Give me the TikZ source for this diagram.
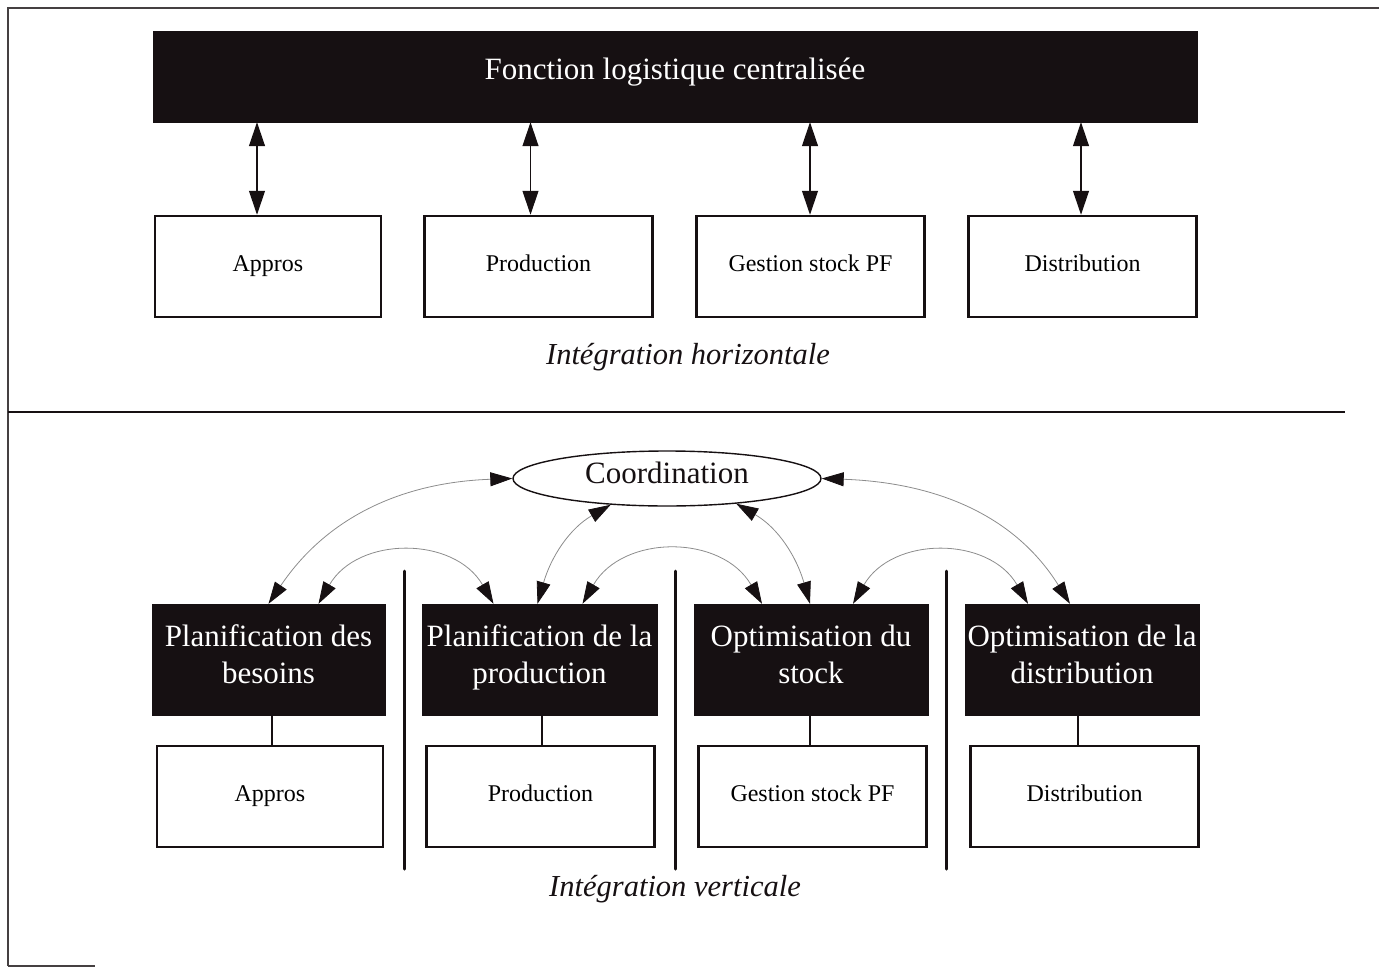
\documentclass[tikz,border=0pt]{standalone}
\usepackage{fontspec}
\setmainfont{Liberation Serif}
\usetikzlibrary{arrows.meta,shapes.geometric}
\definecolor{ink}{RGB}{22,16,18}
\definecolor{curvegray}{RGB}{140,140,140}
\newcommand\twoline[2]{\raisebox{-4.3pt}[0pt][0pt]{\begin{tabular}{@{}c@{}}#1\\#2\end{tabular}}}
\newcommand\lift[2]{\raisebox{#1}[0pt][0pt]{#2}}
\begin{document}
\begin{tikzpicture}[x=1pt,y=1pt,
  blackbox/.style={rectangle, fill=ink, draw=ink, text=white, inner sep=0pt,
    font=\fontsize{31}{37}\selectfont},
  whitebox/.style={rectangle, draw=ink, line width=2.5pt, fill=white,
    minimum width=228pt, minimum height=101pt, inner sep=0pt,
    text height=16pt, text depth=7pt,
    font=\fontsize{24}{28}\selectfont},
  biarrow/.style={{Triangle[length=24pt,width=16pt]}-{Triangle[length=24pt,width=16pt]},
    line width=1.2pt, draw=ink},
  curvarrow/.style={{Triangle[length=22pt,width=14pt,color=ink,fill=ink]}-{Triangle[length=22pt,width=14pt,color=ink,fill=ink]},
    line width=0.8pt, draw=curvegray},
  caption/.style={font=\fontsize{30.5}{34}\selectfont\itshape, text=ink},
  frameline/.style={line width=1.2pt, draw=ink!80},
  sepline/.style={line width=2.6pt, draw=ink},
  link/.style={line width=2pt, draw=ink}
]
\useasboundingbox (0,0) rectangle (1379,-969);

% frame
\draw[frameline] (8,-966) -- (8,-8) -- (1379,-8);
\draw[frameline] (8,-966) -- (95,-966);
\draw[sepline] (8,-412) -- (1345,-412);

% ---------- horizontal integration ----------
\node[blackbox, minimum width=1044pt, minimum height=91pt] (top) at (675,-76.5)
  {\lift{-2.5pt}{Fonction logistique centralisée}};

\node[whitebox, minimum width=226pt] (a1) at (268,-266.5) {Appros};
\node[whitebox] (a2) at (538.5,-266.5) {Production};
\node[whitebox] (a3) at (810.5,-266.5) {Gestion stock PF};
\node[whitebox] (a4) at (1082.5,-266.5) {Distribution};

\draw[biarrow] ([xshift=-11pt]a1.north) -- ([xshift=-11pt]a1.north |- top.south);
\draw[biarrow] ([xshift=-8pt]a2.north) -- ([xshift=-8pt]a2.north |- top.south);
\draw[biarrow] ([xshift=-0.5pt]a3.north) -- ([xshift=-0.5pt]a3.north |- top.south);
\draw[biarrow] ([xshift=-1.5pt]a4.north) -- ([xshift=-1.5pt]a4.north |- top.south);

\node[caption] (hcap) at (688,-357) {Intégration horizontale};

% ---------- vertical integration ----------
\node[ellipse, draw=ink, line width=1.4pt, fill=white, minimum width=308pt,
  minimum height=55pt, inner sep=0pt, font=\fontsize{31}{36}\selectfont, text=ink]
  (coord) at (667,-478.5) {\lift{-4.8pt}{Coordination}};

\node[blackbox, minimum width=233pt, minimum height=111pt] (pb) at (268.5,-659.5)
  {\twoline{Planification des}{besoins}};
\node[blackbox, minimum width=235pt, minimum height=111pt] (pp) at (539.5,-659.5)
  {\twoline{Planification de la}{production}};
\node[blackbox, minimum width=234pt, minimum height=111pt] (os) at (811,-659.5)
  {\twoline{Optimisation du}{stock}};
\node[blackbox, minimum width=234pt, minimum height=111pt] (od) at (1082,-659.5)
  {\twoline{Optimisation de la}{distribution}};

\node[whitebox, minimum width=226pt] (b1) at (270,-796.5) {Appros};
\node[whitebox] (b2) at (540.5,-796.5) {Production};
\node[whitebox] (b3) at (812.5,-796.5) {Gestion stock PF};
\node[whitebox] (b4) at (1084.5,-796.5) {Distribution};

\draw[link] ([xshift=2pt]b1.north) -- ([xshift=2pt]b1.north |- pb.south);
\draw[link] ([xshift=1.5pt]b2.north) -- ([xshift=1.5pt]b2.north |- pp.south);
\draw[link] ([xshift=-2.5pt]b3.north) -- ([xshift=-2.5pt]b3.north |- os.south);
\draw[link] ([xshift=-6.5pt]b4.north) -- ([xshift=-6.5pt]b4.north |- od.south);

% vertical separators
\draw[line width=3pt, draw=ink, line cap=round] (404,-571) -- (404,-869);
\draw[line width=3pt, draw=ink, line cap=round] (675,-571) -- (675,-869);
\draw[line width=3pt, draw=ink, line cap=round] (946,-571) -- (946,-869);

% curved connectors
\draw[curvarrow] (pb.north) to[out=56,in=182] (coord.west);
\draw[curvarrow] ([xshift=-2pt]pp.north) to[out=74,in=210] (coord.205);
\draw[curvarrow] ([xshift=-1pt]os.north) to[out=106,in=-30] (coord.340);
\draw[curvarrow] ([xshift=-12pt]od.north) to[out=122,in=-2] (coord.east);

\draw[curvarrow] ([xshift=50pt]pb.north) to[out=60,in=120,looseness=1.15] ([xshift=-46pt]pp.north);
\draw[curvarrow] ([xshift=43pt]pp.north) to[out=60,in=120,looseness=1.15] ([xshift=-49pt]os.north);
\draw[curvarrow] ([xshift=42pt]os.north) to[out=60,in=120,looseness=1.15] ([xshift=-54pt]od.north);

\node[caption] (vcap) at (675,-889) {Intégration verticale};
\end{tikzpicture}
\end{document}
